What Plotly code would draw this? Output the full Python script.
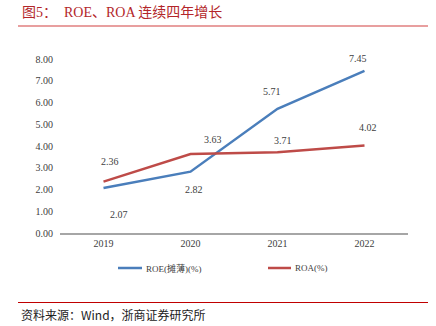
import plotly.graph_objects as go

# ---- data ----
years = ["2019", "2020", "2021", "2022"]
roe = [2.07, 2.82, 5.71, 7.45]
roa = [2.36, 3.63, 3.71, 4.02]
roe_name = "ROE(摊薄)(%)"
roa_name = "ROA(%)"
title_text = "图5：  ROE、ROA 连续四年增长"
source_text = "资料来源：Wind，浙商证券研究所"

# ---- styling ----
W, H = 436, 326
L, R, T, B = 60, 28, 59, 93
BLUE = "#4a7ebb"
RED = "#be4b48"
NUM_FONT = "Liberation Serif, Noto Sans CJK SC"
CJK_FONT = "Noto Sans CJK SC"

# label pixel offsets (styling only)
roe_off = [(15, -27), (3, -18), (-6, 17), (-7, 12)]
roa_off = [(6, 20), (22, 15), (5, 12), (3, 18)]

pw = W - L - R
ph = H - T - B


def px_x(px):
    return (px - L) / pw


def px_y(py):
    return (H - B - py) / ph


fig = go.Figure()
fig.add_trace(go.Scatter(x=years, y=roe, mode="lines", name=roe_name,
                         line=dict(color=BLUE, width=2.5)))
fig.add_trace(go.Scatter(x=years, y=roa, mode="lines", name=roa_name,
                         line=dict(color=RED, width=2.5)))

for vals, offs in ((roe, roe_off), (roa, roa_off)):
    for i, (yv, (dx, dy)) in enumerate(zip(vals, offs)):
        # category index position on the category axis
        fig.add_annotation(x=i, y=yv, xref="x", yref="y", text=f"{yv:.2f}",
                           showarrow=False, xshift=dx, yshift=dy,
                           font=dict(family=NUM_FONT, size=10, color="#404040"))

# title
fig.add_annotation(x=px_x(20), y=px_y(12), xref="paper", yref="paper",
                   xanchor="left", yanchor="middle", showarrow=False,
                   text=title_text,
                   font=dict(family="Liberation Serif, Noto Sans CJK SC", size=14, color="#b3262a"))
# source
fig.add_annotation(x=px_x(19), y=px_y(314), xref="paper", yref="paper",
                   xanchor="left", yanchor="middle", showarrow=False,
                   text=source_text,
                   font=dict(family=CJK_FONT, size=12, color="#222222"))

fig.add_shape(type="line", xref="paper", yref="paper",
              x0=px_x(18), x1=px_x(428), y0=px_y(26), y1=px_y(26),
              line=dict(color="#e07f7f", width=1.5))
fig.add_shape(type="line", xref="paper", yref="paper",
              x0=px_x(18), x1=px_x(428), y0=px_y(302.5), y1=px_y(302.5),
              line=dict(color="#c00000", width=1))

# manual legend
for (x0, x1, col, name) in ((118, 142, BLUE, roe_name), (268, 291, RED, roa_name)):
    fig.add_shape(type="line", xref="paper", yref="paper",
                  x0=px_x(x0), x1=px_x(x1), y0=px_y(268), y1=px_y(268),
                  line=dict(color=col, width=2.5))
    fig.add_annotation(x=px_x(x1 + 2), y=px_y(268), xref="paper", yref="paper",
                       xanchor="left", yanchor="middle", showarrow=False,
                       text=name,
                       font=dict(family=NUM_FONT, size=9, color="#404040"))

fig.update_layout(
    width=W, height=H,
    margin=dict(l=L, r=R, t=T, b=B, pad=0),
    paper_bgcolor="white", plot_bgcolor="white",
    showlegend=False,
    font=dict(family=NUM_FONT, color="#404040"),
)
fig.update_xaxes(type="category", range=[-0.5, 3.5], showgrid=False,
                 showline=True, linecolor="#a6a6a6", linewidth=2,
                 ticks="", tickfont=dict(family=NUM_FONT, size=10, color="#404040"),
                 zeroline=False, fixedrange=True)
fig.update_yaxes(range=[0, 8], dtick=1, tickformat=".2f", showgrid=False,
                 showline=False, zeroline=False, ticks="",
                 ticklabelstandoff=6,
                 tickfont=dict(family=NUM_FONT, size=10, color="#404040"),
                 fixedrange=True)

fig.write_html("out.html")
